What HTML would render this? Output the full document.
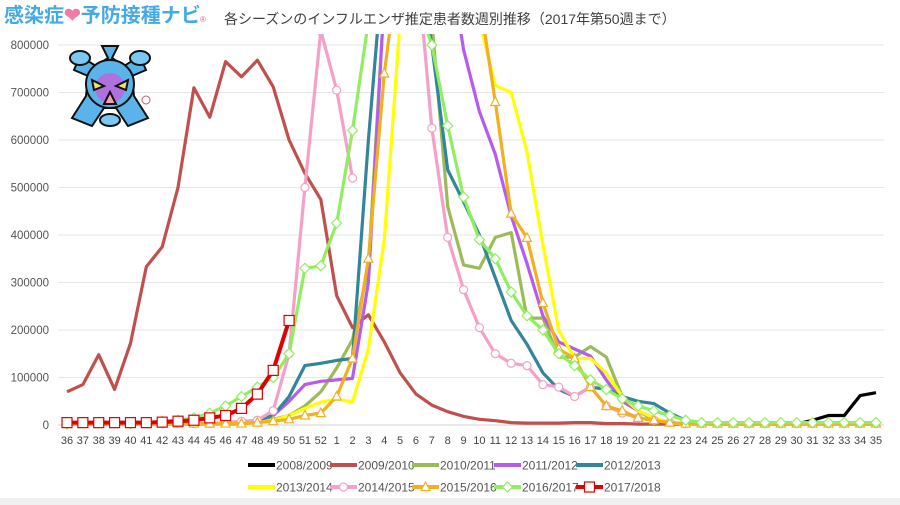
<!DOCTYPE html>
<html><head><meta charset="utf-8"><style>
html,body{margin:0;padding:0;background:#fff;}
body{width:900px;height:505px;overflow:hidden;position:relative;font-family:"Liberation Sans","Noto Sans CJK JP",sans-serif;}
</style></head><body>
<svg id="c" width="900" height="505" xmlns="http://www.w3.org/2000/svg" style="position:absolute;left:0;top:0">
<rect width="900" height="505" fill="#fff"/>
<rect x="0" y="498" width="900" height="7" fill="#f0f0f0"/>
<text x="4" y="22" font-size="20" font-weight="bold" fill="#45a9e6" font-family="'Noto Sans CJK JP',sans-serif">感染症<tspan fill="#f07aa8">❤</tspan>予防接種ナビ</text>
<text x="200" y="22" font-size="8" fill="#e06090">®</text>
<text x="224" y="24" font-size="14" fill="#404040" font-family="'Liberation Sans','Noto Sans CJK JP',sans-serif">各シーズンのインフルエンザ推定患者数週別推移（2017年第50週まで）</text>
<g id="grid"></g>
<g transform="translate(110,88)">
<path d="M-8,-42 L8,-42 L2,-30 L14,-22 L30,-32 L36,-18 L22,-12 L24,8 L38,30 L18,38 L6,20 L-6,20 L-18,38 L-38,30 L-24,8 L-22,-12 L-36,-18 L-30,-32 L-14,-22 L-2,-30 Z" fill="#5ab4ea" stroke="#111" stroke-width="2"/>
<circle cx="0" cy="-4" r="24" fill="#5ab4ea" stroke="#111" stroke-width="2"/>
<circle cx="0" cy="0" r="15" fill="#b070e0"/>
<ellipse cx="-30" cy="-30" rx="10" ry="7" fill="#7cc8f0" stroke="#111" stroke-width="2"/>
<ellipse cx="30" cy="-30" rx="10" ry="7" fill="#7cc8f0" stroke="#111" stroke-width="2"/>
<ellipse cx="0" cy="32" rx="10" ry="6" fill="#7cc8f0" stroke="#111" stroke-width="2"/>
<path d="M-18,-8 L-6,-2 L-16,2 Z M18,-8 L6,-2 L16,2 Z" fill="#f0e070" stroke="#111" stroke-width="2"/>
<path d="M-6,16 L0,4 L6,16 Z" fill="#f0a0b0" stroke="#111" stroke-width="2"/>
<circle cx="36" cy="12" r="4" fill="none" stroke="#c06070" stroke-width="1"/>
</g>
<g id="series"></g>
<g id="xl"></g>
<g id="legend"></g>
</svg>
<script>
var NS="http://www.w3.org/2000/svg";
function el(p,t,a,txt){var e=document.createElementNS(NS,t);for(var k in a)e.setAttribute(k,a[k]);if(txt!=null)e.textContent=txt;p.appendChild(e);return e;}
var x0=67,dx=(876-67)/51,y0=425,sc=380/800;
function X(i){return x0+i*dx;}
function Y(v){return y0-v*sc;}
var g=document.getElementById('grid');
for(var k=0;k<=8;k++){var y=Y(k*100);
 el(g,'line',{x1:58,x2:884,y1:y,y2:y,stroke:k==0?'#d0d0d0':'#e6e6e6','stroke-width':1});
 el(g,'text',{x:49,y:y+4,'font-size':11.5,fill:'#555','text-anchor':'end'},String(k*100000));}
var weeks=[];for(var w=36;w<=52;w++)weeks.push(w);for(w=1;w<=35;w++)weeks.push(w);
var xl=document.getElementById('xl');
weeks.forEach(function(w,i){el(xl,'text',{x:X(i),y:444,'font-size':11,fill:'#444','text-anchor':'middle'},String(w));});
function idx(w){return w>=36?w-36:w+16;}
function fill(obj,def){var a=[];weeks.forEach(function(w){a.push(obj.hasOwnProperty(w)?obj[w]:def);});return a;}
var S=[
{c:'#000000',n:'2008/2009',d:fill({30:2,31:10,32:20,33:20,34:62,35:68},null)},
{c:'#c0504d',n:'2009/2010',d:fill({36:70,37:85,38:148,39:75,40:172,41:333,42:375,43:500,44:710,45:648,46:765,47:733,48:768,49:712,50:600,51:530,52:475,1:272,2:205,3:232,4:175,5:110,6:65,7:42,8:28,9:18,10:12,11:9,12:5,13:4,14:4,15:4,16:5,17:5,18:3,19:3,20:2},2)},
{c:'#9bbb59',n:'2010/2011',d:fill({48:8,49:12,50:20,51:40,52:70,1:120,2:180,3:330,4:900,5:1200,6:1100,7:850,8:460,9:337,10:330,11:395,12:405,13:225,14:225,15:143,16:143,17:165,18:143,19:60,20:30,21:10,22:5},2)},
{c:'#b65ced',n:'2011/2012',d:fill({48:10,49:20,50:50,51:85,52:92,1:95,2:98,3:300,4:900,5:1300,6:1400,7:1200,8:1000,9:790,10:660,11:570,12:440,13:340,14:230,15:175,16:160,17:145,18:95,19:50,20:30,21:15,22:5},2)},
{c:'#31859c',n:'2012/2013',d:fill({48:10,49:20,50:60,51:125,52:130,1:136,2:140,3:600,4:1000,5:1200,6:1000,7:800,8:537,9:470,10:400,11:310,12:220,13:170,14:110,15:75,16:60,17:80,18:75,19:60,20:50,21:45,22:25,23:10,24:5},2)},
{c:'#ffff00',n:'2013/2014',d:fill({48:5,49:10,50:20,51:35,52:48,1:55,2:48,3:160,4:390,5:850,6:1100,7:1200,8:1100,9:950,10:850,11:715,12:700,13:575,14:380,15:200,16:140,17:140,18:110,19:60,20:30,21:15,22:5},2)},
{c:'#f4a0c8',n:'2014/2015',m:'o',d:fill({46:5,47:8,48:10,49:30,50:150,51:500,52:830,1:705,2:520,3:null,4:null,5:null,6:1000,7:625,8:395,9:285,10:205,11:150,12:130,13:125,14:85,15:80,16:60,17:80,18:40,19:25,20:15,21:10,22:5},3)},
{c:'#f0b020',n:'2015/2016',m:'t',d:fill({48:5,49:8,50:12,51:20,52:25,1:60,2:140,3:350,4:740,5:1000,6:1300,7:1300,8:1200,9:1000,10:900,11:680,12:445,13:394,14:257,15:160,16:140,17:80,18:40,19:30,20:15,21:10,22:5},3)},
{c:'#90ee60',n:'2016/2017',m:'d',d:fill({36:2,40:3,42:8,43:10,44:15,45:25,46:40,47:60,48:80,49:100,50:150,51:330,52:335,1:425,2:620,3:850,4:1000,5:1000,6:900,7:800,8:630,9:480,10:390,11:350,12:280,13:230,14:200,15:150,16:125,17:95,18:75,19:55,20:40,21:30,22:20,23:10},5)},
{c:'#e00000',n:'2017/2018',m:'s',d:fill({36:5,37:5,38:5,39:5,40:5,41:5,42:6,43:8,44:10,45:15,46:20,47:35,48:65,49:115,50:220},null)}
];
var sg=document.getElementById('series');
var cp=el(sg,'clipPath',{id:'cp'});el(cp,'rect',{x:0,y:34,width:900,height:400});
var gg=el(sg,'g',{'clip-path':'url(#cp)'});
function marker(p,m,x,y,c){
 if(m=='o')el(p,'circle',{cx:x,cy:y,r:4,fill:'#fff',stroke:c,'stroke-width':1.2});
 else if(m=='t')el(p,'path',{d:'M'+x+','+(y-5)+' L'+(x+4.5)+','+(y+3.5)+' L'+(x-4.5)+','+(y+3.5)+' Z',fill:'#fff',stroke:c,'stroke-width':1.2});
 else if(m=='d')el(p,'path',{d:'M'+x+','+(y-5)+' L'+(x+5)+','+y+' L'+x+','+(y+5)+' L'+(x-5)+','+y+' Z',fill:'#fff',stroke:c,'stroke-width':1.2});
 else if(m=='s')el(p,'rect',{x:x-5,y:y-5,width:10,height:10,fill:'#fff',stroke:c,'stroke-width':1.2});
}
S.forEach(function(s){
 var segs=[[]];s.d.forEach(function(v,i){if(v==null){if(segs[segs.length-1].length)segs.push([]);}else segs[segs.length-1].push(X(i).toFixed(1)+','+Y(v).toFixed(1));});
 segs.forEach(function(pts){if(pts.length>1)el(gg,'polyline',{points:pts.join(' '),fill:'none',stroke:s.c,'stroke-width':s.n=='2017/2018'?4:3.2,'stroke-linejoin':'round'});});
 if(s.m)s.d.forEach(function(v,i){if(v!=null)marker(gg,s.m,X(i),Y(v),s.c);});
});
var lg=document.getElementById('legend');
var rows=[[0,1,2,3,4],[5,6,7,8,9]];
rows.forEach(function(r,ri){var y=ri==0?465:487;
 r.forEach(function(si,j){var x=248+j*82;var s=S[si];
  el(lg,'line',{x1:x,x2:x+27,y1:y,y2:y,stroke:s.c,'stroke-width':4});
  if(s.m)marker(lg,s.m,x+13.5,y,s.c);
  el(lg,'text',{x:x+28,y:y+4.5,'font-size':12,fill:'#555'},s.n);
 });});
</script>
</body></html>
